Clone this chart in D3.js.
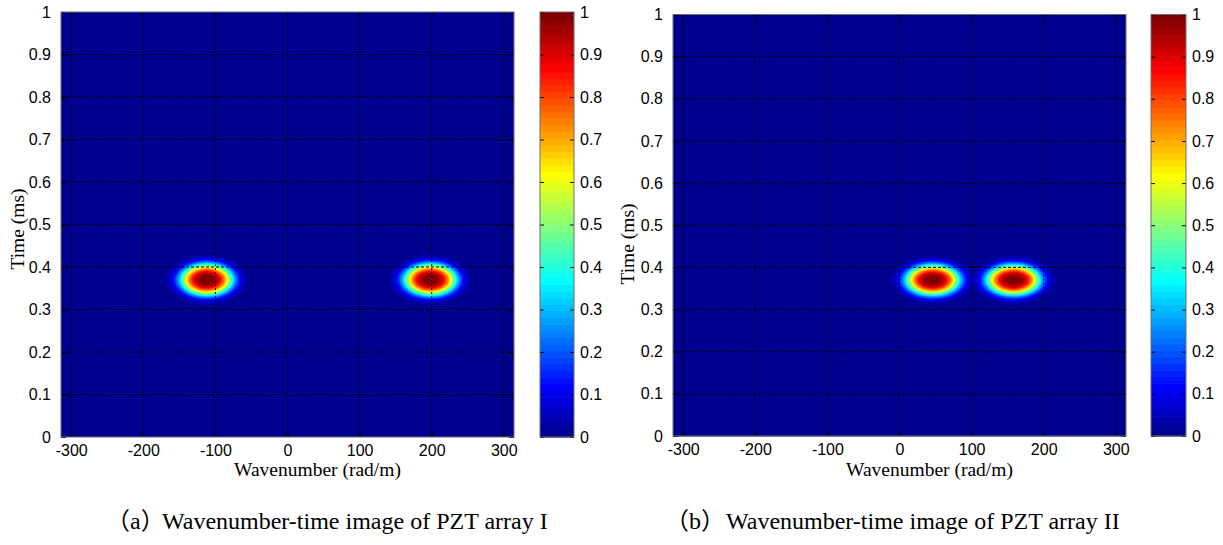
<!DOCTYPE html>
<html>
<head>
<meta charset="utf-8">
<script src="https://cdn.jsdelivr.net/npm/d3@7"></script>
<style>
  html, body { margin: 0; padding: 0; background: #fff; }
  svg { display: block; }
  .tick-label { font-family: "Liberation Sans", Arial, sans-serif; font-size: 16px; fill: #000; }
  .axis-title { font-family: "Liberation Serif", "Times New Roman", serif; font-size: 19.5px; fill: #000; }
  .caption { font-family: "Liberation Serif", "Times New Roman", "Noto Sans CJK SC", serif; font-size: 24px; fill: #000; }
</style>
</head>
<body>
<svg id="fig" width="1223" height="545"></svg>
<script>
// Axis ticks
const kTicks = [-300, -200, -100, 0, 100, 200, 300];
const tTicks = [0, 0.1, 0.2, 0.3, 0.4, 0.5, 0.6, 0.7, 0.8, 0.9, 1];
const cbTicks = [0, 0.1, 0.2, 0.3, 0.4, 0.5, 0.6, 0.7, 0.8, 0.9, 1];
const kDomain = [-100 * Math.PI, 100 * Math.PI];   // rad/m
const tDomain = [0, 1];                            // ms

// Wave packets found in the wavenumber-time plane (PZT array I)
const peaksA_k = [-112, 198];       // rad/m
const peaksA_t = [0.37, 0.37];      // ms
const peaksA_amp = [1, 1];
const peaksA_wk = [36, 36];         // half-width, rad/m
const peaksA_wt = [0.037, 0.037];   // half-width, ms

// Wave packets (PZT array II)
const peaksB_k = [46, 158];
const peaksB_t = [0.37, 0.37];
const peaksB_amp = [1, 1];
const peaksB_wk = [37, 37];
const peaksB_wt = [0.036, 0.036];

const captionTags = ["\uFF08a\uFF09", "\uFF08b\uFF09"];
const captionTexts = ["Wavenumber-time image of PZT array I",
                      "Wavenumber-time image of PZT array II"];

// MATLAB-style jet colormap with 64 levels
function jet64() {
  const n = 64, m = 16;
  const u = [];
  for (let j = 1; j <= 16; j++) u.push(j / 16);
  for (let j = 0; j < 15; j++) u.push(1);
  for (let j = 16; j >= 1; j--) u.push(j / 16);
  const cmap = d3.range(n).map(() => [0, 0, 0]);
  const g0 = Math.ceil(m / 2);      // 8
  for (let i = 0; i < u.length; i++) {
    const gi = g0 + i, ri = gi + m, bi = gi - m;
    if (ri < n) cmap[ri][0] = u[i];
    if (gi < n) cmap[gi][1] = u[i];
    if (bi >= 0) cmap[bi][2] = u[i];
  }
  return cmap.map(c => c.map(v => Math.round(v * 255)));
}
const JET = jet64();
const colorIndex = d3.scaleQuantize().domain([0, 1]).range(d3.range(64));

function field(k, t, p) {
  let v = 0;
  for (let i = 0; i < p.k.length; i++) {
    const dk = (k - p.k[i]) / p.wk[i];
    const dt = (t - p.t[i]) / p.wt[i];
    const r = Math.sqrt(dk * dk + dt * dt);
    v = Math.max(v, p.amp[i] * Math.exp(-r * r * r));
  }
  return v;
}

// Plain ASCII hyphen for negative tick labels
const fmt = d => String(+d.toFixed(2));

const svg = d3.select("#fig");

function drawPanel(cfg) {
  const x = d3.scaleLinear().domain(kDomain).range([cfg.x0, cfg.x1]);
  const y = d3.scaleLinear().domain(tDomain).range([cfg.y1, cfg.y0]);
  const g = svg.append("g");

  // Heat map rendered pixel by pixel through the scales
  const w = Math.round(cfg.x1 - cfg.x0), h = Math.round(cfg.y1 - cfg.y0);
  const canvas = document.createElement("canvas");
  canvas.width = w; canvas.height = h;
  const ctx = canvas.getContext("2d");
  const img = ctx.createImageData(w, h);
  for (let py = 0; py < h; py++) {
    const t = y.invert(cfg.y0 + py + 0.5);
    for (let px = 0; px < w; px++) {
      const k = x.invert(cfg.x0 + px + 0.5);
      const c = JET[colorIndex(field(k, t, cfg.peaks))];
      const o = (py * w + px) * 4;
      img.data[o] = c[0]; img.data[o + 1] = c[1]; img.data[o + 2] = c[2]; img.data[o + 3] = 255;
    }
  }
  ctx.putImageData(img, 0, 0);
  g.append("image")
    .attr("x", cfg.x0).attr("y", cfg.y0)
    .attr("width", w).attr("height", h)
    .attr("preserveAspectRatio", "none")
    .attr("href", canvas.toDataURL());

  // Dotted grid
  g.append("g").selectAll("line").data(kTicks).join("line")
    .attr("x1", d => x(d)).attr("x2", d => x(d))
    .attr("y1", cfg.y0).attr("y2", cfg.y1)
    .attr("stroke", "#000").attr("stroke-width", 1).attr("stroke-dasharray", "2,2");
  g.append("g").selectAll("line").data(tTicks.filter(d => d > 0 && d < 1)).join("line")
    .attr("y1", d => y(d)).attr("y2", d => y(d))
    .attr("x1", cfg.x0).attr("x2", cfg.x1)
    .attr("stroke", "#000").attr("stroke-width", 1).attr("stroke-dasharray", "3,2");

  // Axes (ticks pointing inward)
  const tl = 5;
  const styleText = a => a.selectAll("text").attr("class", "tick-label").attr("font-size", null).attr("font-family", null);
  g.append("g").attr("transform", `translate(0,${cfg.y1})`)
    .call(d3.axisBottom(x).tickValues(kTicks).tickSizeInner(-tl).tickSizeOuter(0).tickPadding(8).tickFormat(fmt))
    .call(a => a.select(".domain").remove())
    .call(styleText);
  g.append("g").attr("transform", `translate(0,${cfg.y0})`)
    .call(d3.axisTop(x).tickValues(kTicks).tickSizeInner(-tl).tickSizeOuter(0).tickFormat(""))
    .call(a => a.select(".domain").remove());
  g.append("g").attr("transform", `translate(${cfg.x0},0)`)
    .call(d3.axisLeft(y).tickValues(tTicks).tickSizeInner(-tl).tickSizeOuter(0).tickPadding(10).tickFormat(fmt))
    .call(a => a.select(".domain").remove())
    .call(styleText);
  g.append("g").attr("transform", `translate(${cfg.x1},0)`)
    .call(d3.axisRight(y).tickValues(tTicks).tickSizeInner(-tl).tickSizeOuter(0).tickFormat(""))
    .call(a => a.select(".domain").remove());
  g.append("rect")
    .attr("x", cfg.x0).attr("y", cfg.y0)
    .attr("width", cfg.x1 - cfg.x0).attr("height", cfg.y1 - cfg.y0)
    .attr("fill", "none").attr("stroke", "#6e6e6e").attr("stroke-width", 1);

  // Axis titles
  g.append("text").attr("class", "axis-title")
    .attr("x", (cfg.x0 + cfg.cx1) / 2).attr("y", cfg.xlabY)
    .attr("text-anchor", "middle").text("Wavenumber (rad/m)");
  g.append("text").attr("class", "axis-title")
    .attr("transform", `translate(${cfg.ylabX},${cfg.ylabCY}) rotate(-90)`)
    .attr("text-anchor", "middle").text("Time (ms)");

  // Colour bar
  const cy = d3.scaleLinear().domain([0, 1]).range([cfg.y1, cfg.y0]);
  g.append("g").selectAll("rect").data(d3.range(64)).join("rect")
    .attr("x", cfg.cx0).attr("width", cfg.cx1 - cfg.cx0)
    .attr("y", i => cy((i + 1) / 64))
    .attr("height", i => cy(i / 64) - cy((i + 1) / 64) + 0.6)
    .attr("fill", i => `rgb(${JET[i].join(",")})`);
  g.append("g").attr("transform", `translate(${cfg.cx1},0)`)
    .call(d3.axisRight(cy).tickValues(cbTicks).tickSizeInner(-4).tickSizeOuter(0).tickPadding(6).tickFormat(fmt))
    .call(a => a.select(".domain").remove())
    .call(styleText);
  g.append("g").attr("transform", `translate(${cfg.cx0},0)`)
    .call(d3.axisLeft(cy).tickValues(cbTicks).tickSizeInner(-4).tickSizeOuter(0).tickFormat(""))
    .call(a => a.select(".domain").remove());
  g.append("rect")
    .attr("x", cfg.cx0).attr("y", cfg.y0)
    .attr("width", cfg.cx1 - cfg.cx0).attr("height", cfg.y1 - cfg.y0)
    .attr("fill", "none").attr("stroke", "#6e6e6e").attr("stroke-width", 1);

  // Caption: tag in full-width brackets followed by the title
  const cap = svg.append("text").attr("class", "caption").attr("y", 529);
  cap.append("tspan").attr("x", cfg.capX).text(cfg.tag);
  cap.append("tspan").attr("x", cfg.capTextX).text(cfg.caption);
}

drawPanel({
  x0: 61, x1: 514, y0: 12, y1: 437, cx0: 540, cx1: 574,
  xlabY: 476, ylabX: 24, ylabCY: 229,
  capX: 106, capTextX: 162, tag: captionTags[0], caption: captionTexts[0],
  peaks: { k: peaksA_k, t: peaksA_t, amp: peaksA_amp, wk: peaksA_wk, wt: peaksA_wt }
});
drawPanel({
  x0: 673, x1: 1126, y0: 14.5, y1: 436, cx0: 1151, cx1: 1186,
  xlabY: 476, ylabX: 634, ylabCY: 244,
  capX: 665, capTextX: 726, tag: captionTags[1], caption: captionTexts[1],
  peaks: { k: peaksB_k, t: peaksB_t, amp: peaksB_amp, wk: peaksB_wk, wt: peaksB_wt }
});
</script>
</body>
</html>
